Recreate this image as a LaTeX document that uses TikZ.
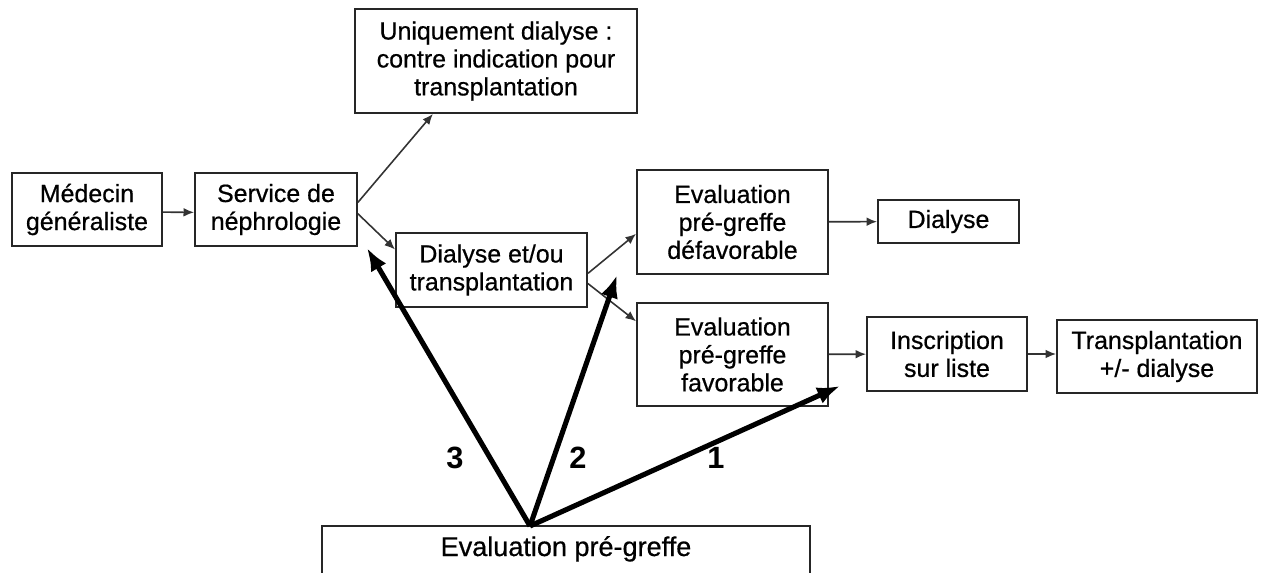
\documentclass[tikz,border=0pt]{standalone}
\usepackage{fontspec}
\setmainfont{Liberation Sans}[UprightFeatures={FakeBold=0.6}]
\usetikzlibrary{arrows.meta}

\newcommand{\boxfont}{\fontsize{14.2pt}{15.9pt}\selectfont}
\newcommand{\bigfont}{\fontsize{15.4pt}{17pt}\selectfont}
\newcommand{\numfont}{\fontsize{17.5pt}{19pt}\selectfont\bfseries}

\begin{document}
\begin{tikzpicture}[x=0.02cm,y=-0.02cm,
    etape/.style={draw=black!85,line width=1.1pt,align=center,inner sep=0pt,font=\boxfont},
    fin/.style={draw=black!80,line width=0.9pt,-{Latex[length=6pt,width=5pt]}},
    gros/.style={draw=black,line width=2.9pt,-{Latex[length=13pt,width=10pt]}},
    num/.style={font=\numfont}]
      \useasboundingbox (0,0) rectangle (1262,572);
      \clip (0,0) rectangle (1262,572);

      \node[etape,minimum width=3cm,minimum height=1.46cm] (medecin) at (87,209.5) {Médecin\\généraliste};
      \node[etape,minimum width=3.24cm,minimum height=1.46cm] (service) at (276,209.5) {Service de\\néphrologie};
      \node[etape,minimum width=5.64cm,minimum height=2.08cm] (uniq) at (496,61) {Uniquement dialyse :\\contre indication pour\\transplantation};
      \node[etape,minimum width=3.82cm,minimum height=1.48cm] (dialtx) at (491.5,270) {Dialyse et/ou\\transplantation};
      \node[etape,minimum width=3.82cm,minimum height=2.08cm] (defav) at (732.5,222) {Evaluation\\pré-greffe\\défavorable};
      \node[etape,minimum width=3.82cm,minimum height=2.06cm] (fav) at (732.5,354.5) {Evaluation\\pré-greffe\\favorable};
      \node[etape,minimum width=2.82cm,minimum height=0.86cm] (dialyse) at (948.5,221.5) {Dialyse};
      \node[etape,minimum width=3.2cm,minimum height=1.48cm] (inscr) at (947,354) {Inscription\\sur liste};
      \node[etape,minimum width=4cm,minimum height=1.46cm] (transpl) at (1157,356.5) {Transplantation\\+/- dialyse};
      \node[etape,font=\bigfont,minimum width=9.76cm,minimum height=1.28cm,text height=0.36cm,text depth=0.44cm] (evalpg) at (566,558) {Evaluation pré-greffe};

      \draw[fin] (medecin.-2) -- (service.182);
      \draw[fin] (service.5) -- (uniq.220.5);
      \draw[fin] (service.-3) -- (dialtx.168);
      \draw[fin] (dialtx.-2) -- (defav.187.75);
      \draw[fin] (dialtx.-8) -- (fav.161);
      \draw[fin] (defav) -- (dialyse);
      \draw[fin] (fav) -- (inscr);
      \draw[fin] (inscr.east) -- (inscr.east -| transpl.west);

      % les trois issues de l'evaluation
      \coordinate (src) at (530,526);
      \coordinate (tip3) at (367,248);
      \coordinate (tip2) at (617,275);
      \coordinate (tip1) at (840,386);
      \draw[gros] (src) -- (tip3);
      \draw[gros] (src) -- (tip2);
      \draw[gros] (src) -- (tip1);

      \node[num] (n3) at (455,458) {3};
      \node[num] (n2) at (578,458) {2};
      \node[num] (n1) at (716,458) {1};
    \end{tikzpicture}
\end{document}
